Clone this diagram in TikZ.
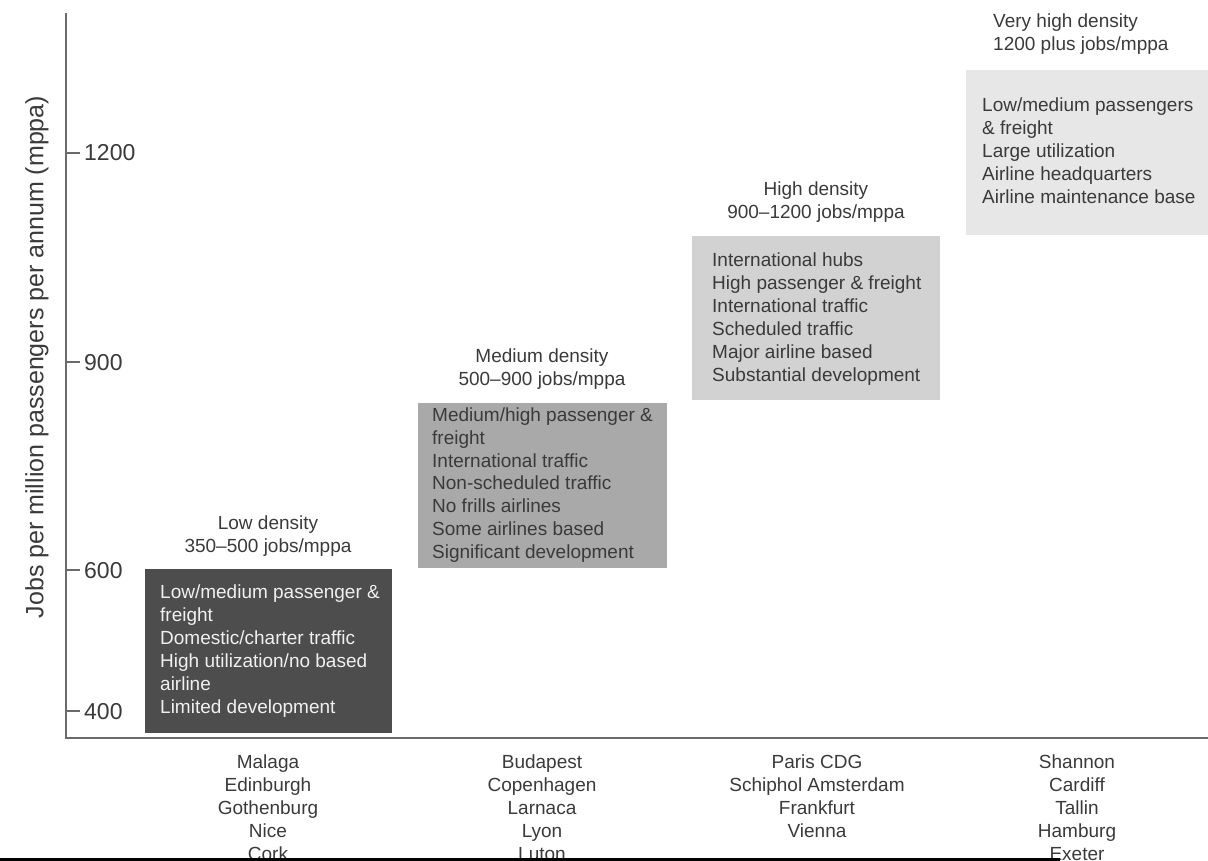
\documentclass[tikz,border=0pt]{standalone}
\usepackage{fontspec}
\setmainfont{Liberation Sans}
\definecolor{axisgray}{HTML}{6A6A6A}
\definecolor{txtgray}{HTML}{3A3A3A}
\definecolor{lowfill}{HTML}{4D4D4D}
\definecolor{medfill}{HTML}{A9A9A9}
\definecolor{highfill}{HTML}{D2D2D2}
\definecolor{vhighfill}{HTML}{E7E7E7}
\begin{document}
\begin{tikzpicture}[x=1pt,y=-1pt,
  axis/.style={draw=axisgray, line width=2.6pt},
  tick/.style={draw=axisgray, line width=1.6pt},
  ticklabel/.style={font=\fontsize{23}{26}\selectfont, anchor=base west, inner sep=0pt, text=txtgray},
  band/.style={anchor=north west, inner sep=0pt, outer sep=0pt, draw=none},
  % multi-line nodes: the base anchor sits on the baseline of the last line
  body/.style={font=\fontsize{19}{23}\selectfont, align=left, anchor=base west, inner sep=0pt},
  head/.style={font=\fontsize{19}{23}\selectfont, align=center, anchor=base, inner sep=0pt, text=txtgray},
  city/.style={font=\fontsize{19}{23}\selectfont, align=center, anchor=base, inner sep=0pt, text=txtgray}]
\useasboundingbox (0,0) rectangle (1208,861);

% axes
\coordinate (top) at (66,13);
\coordinate (origin) at (66,738);
\coordinate (right) at (1208,738);
\draw[axis] (top) -- (origin) -- (right);

% ticks and their labels
\foreach \v/\yy in {1200/153, 900/362, 600/570, 400/711}{
  \draw[tick] (66,\yy) -- (80,\yy);
  \node[ticklabel] (t\v) at (84,\yy+8) {\v};
}

% axis title
\node[font=\fontsize{25}{28}\selectfont, rotate=90, text=txtgray, inner sep=0pt] (ylabel) at (37,357)
  {Jobs per million passengers per annum (mppa)};

% density bands
\node[band, fill=lowfill, minimum width=247pt, minimum height=164pt] (lowbox) at (145,569) {};
\node[band, fill=medfill, minimum width=249pt, minimum height=165pt] (medbox) at (418,403) {};
\node[band, fill=highfill, minimum width=248pt, minimum height=164pt] (highbox) at (692,236) {};
\node[band, fill=vhighfill, minimum width=242pt, minimum height=165pt] (vhighbox) at (966,70) {};

% band headings
\node[head] (lowhead) at (268,552) {Low density\\350--500 jobs/mppa};
\node[head] (medhead) at (542,385) {Medium density\\500--900 jobs/mppa};
\node[head] (highhead) at (816,219) {High density\\900--1200 jobs/mppa};
\node[head, align=left, anchor=base west] (vhighhead) at (993,51) {Very high density\\1200 plus jobs/mppa};

% band contents
\node[body, text=white!94!black] (lowtext) at (160,713)
  {Low/medium passenger \&\\freight\\Domestic/charter traffic\\High utilization/no based\\airline\\Limited development};
\node[body, text=txtgray, font=\fontsize{19}{22.7}\selectfont] (medtext) at (432,558)
  {Medium/high passenger \&\\freight\\International traffic\\Non-scheduled traffic\\No frills airlines\\Some airlines based\\Significant development};
\node[body, text=txtgray] (hightext) at (712,381)
  {International hubs\\High passenger \& freight\\International traffic\\Scheduled traffic\\Major airline based\\Substantial development};
\node[body, text=txtgray] (vhightext) at (982,204)
  {Low/medium passengers\\\& freight\\Large utilization\\Airline headquarters\\Airline maintenance base};

% example airports
\node[city] (lowcities) at (268,860) {Malaga\\Edinburgh\\Gothenburg\\Nice\\Cork};
\node[city] (medcities) at (542,860) {Budapest\\Copenhagen\\Larnaca\\Lyon\\Luton};
\node[city] (highcities) at (817,837) {Paris CDG\\Schiphol Amsterdam\\Frankfurt\\Vienna};
\node[city] (vhighcities) at (1077,860) {Shannon\\Cardiff\\Tallin\\Hamburg\\Exeter};

% rule along the lower edge
\coordinate (ruleL) at (0,859.5);
\coordinate (ruleR) at (1060,859.5);
\draw[line width=3pt, black] (ruleL) -- (ruleR);
\end{tikzpicture}
\end{document}
